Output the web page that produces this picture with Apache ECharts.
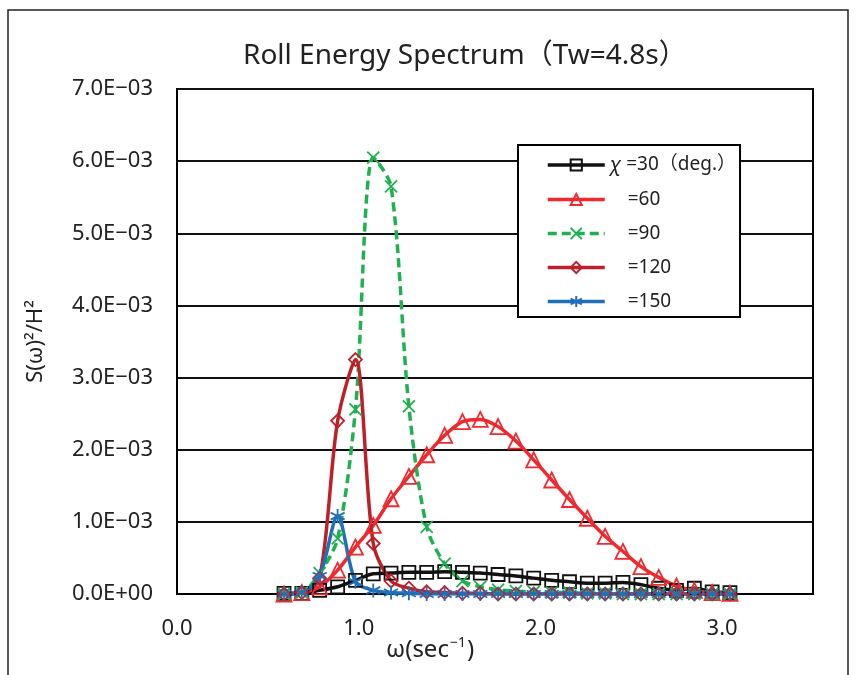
<!DOCTYPE html>
<html>
<head>
<meta charset="utf-8">
<script src="https://cdn.jsdelivr.net/npm/echarts@6/dist/echarts.min.js"></script>
<style>
  html, body { margin: 0; padding: 0; background: #fff; }
  #main { width: 856px; height: 675px; }
</style>
</head>
<body>
<div id="main"></div>
<script>
// 横揺れエネルギースペクトル  (ω = kπ/32, k=6..31)
var omega = [0.589, 0.687, 0.785, 0.884, 0.982, 1.080, 1.178, 1.276, 1.374, 1.473,
             1.571, 1.669, 1.767, 1.865, 1.963, 2.062, 2.160, 2.258, 2.356, 2.454,
             2.553, 2.651, 2.749, 2.847, 2.945, 3.043];

// 値は ×1e-3
var chi30  = [0.01, 0.01, 0.05, 0.10, 0.19, 0.28, 0.29, 0.30, 0.30, 0.31,
              0.30, 0.29, 0.27, 0.25, 0.22, 0.19, 0.17, 0.15, 0.15, 0.16,
              0.13, 0.08, 0.05, 0.08, 0.03, 0.02];
var chi60  = [0.00, 0.02, 0.10, 0.33, 0.65, 0.95, 1.32, 1.63, 1.93, 2.20,
              2.39, 2.42, 2.32, 2.12, 1.86, 1.58, 1.31, 1.05, 0.80, 0.59,
              0.38, 0.23, 0.11, 0.05, 0.02, 0.01];
var chi90  = [0.00, 0.02, 0.29, 0.77, 2.56, 6.05, 5.65, 2.60, 0.93, 0.42,
              0.18, 0.10, 0.06, 0.04, 0.03, 0.02, 0.02, 0.01, 0.01, 0.00,
              0.00, 0.00, 0.00, 0.00, 0.00, 0.00];
var chi120 = [0.00, 0.02, 0.22, 2.40, 3.25, 0.70, 0.18, 0.08, 0.03, 0.02,
              0.01, 0.01, 0.00, 0.00, 0.00, 0.00, 0.00, 0.00, 0.00, 0.00,
              0.00, 0.00, 0.00, 0.00, 0.00, 0.00];
var chi150 = [0.00, 0.02, 0.25, 1.08, 0.17, 0.05, 0.02, 0.01, 0.00, 0.00,
              0.00, 0.00, 0.00, 0.00, 0.00, 0.00, 0.00, 0.00, 0.00, 0.00,
              0.00, 0.00, 0.00, 0.00, 0.00, 0.00];

var seriesNames = ['χ =30（deg.）', '=60', '=90', '=120', '=150'];
var xTicks = [0, 1, 2, 3];

var FONT = '"Noto Sans", "Noto Sans CJK JP", sans-serif';

function pairs(vals) {
    return vals.map(function (v, i) { return [omega[i], v * 1e-3]; });
}

function fmtE(v) {
    if (v === 0) return '0.0E+00';
    var s = v.toExponential(1).split('e');
    var ex = parseInt(s[1], 10);
    var sign = ex < 0 ? '−' : '+';
    var d = Math.abs(ex);
    return s[0] + 'E' + sign + (d < 10 ? '0' + d : d);
}

var X_PATH = 'path://M0,0L10,10M10,0L0,10';
var STAR_PATH = 'path://M5,0L5,10M0.7,2.5L9.3,7.5M0.7,7.5L9.3,2.5';

function mkSeries(name, vals, color, symbol, size, extra) {
    var s = {
        name: name,
        type: 'line',
        data: pairs(vals),
        smooth: 0.3,
        symbol: symbol,
        symbolSize: size,
        lineStyle: { color: color, width: 3.5 },
        itemStyle: { color: 'none', borderColor: color, borderWidth: 1.8 },
        emphasis: { disabled: true }
    };
    if (extra) Object.assign(s.lineStyle, extra);
    return s;
}

var chart = echarts.init(document.getElementById('main'));

var option = {
    backgroundColor: '#fff',
    animation: false,
    textStyle: { fontFamily: FONT },
    title: {
        text: 'Roll Energy Spectrum（Tw=4.8s）',
        left: 238,
        top: 37,
        textStyle: { fontSize: 28, fontWeight: 'normal', color: '#222', fontFamily: FONT }
    },
    graphic: [{
        type: 'rect',
        shape: { x: 8, y: 10, width: 840, height: 700 },
        style: { fill: 'none', stroke: '#222', lineWidth: 1.5 },
        silent: true,
        z: -1
    }, {
        // x軸タイトル (プロット中心より左寄り)
        type: 'text',
        left: 386, top: 636,
        style: {
            text: '{w|ω(sec}{s|−1}{w|)}',
            fill: '#222',
            rich: {
                w: { fontSize: 24, fontFamily: 'Noto Sans', fill: '#222' },
                s: { fontSize: 14, fontFamily: 'Noto Sans', verticalAlign: 'top', padding: [0, 1, 14, 1], fill: '#222' }
            }
        },
        silent: true
    }],
    grid: {
        left: 177, right: 43, top: 89, bottom: 81,
        show: true, borderColor: '#000', borderWidth: 2,
        containLabel: false
    },
    legend: {
        orient: 'vertical',
        left: 518, top: 145,
        padding: [10, 4, 6, 28],
        itemWidth: 57, itemHeight: 14, itemGap: 15,
        backgroundColor: '#fff',
        borderColor: '#000', borderWidth: 2,
        lineStyle: { width: 3.5 },
        data: seriesNames,
        formatter: function (name) {
            if (name.charAt(0) === 'χ') return '{i|χ}' + name.slice(1);
            return '{p|}' + name;
        },
        textStyle: {
            fontSize: 19, color: '#222', fontFamily: FONT,
            rich: {
                i: { fontStyle: 'italic', fontSize: 20, fontFamily: FONT, color: '#222' },
                p: { width: 18 }
            }
        }
    },
    xAxis: {
        type: 'value',
        min: 0, max: 3.5, interval: 1,
        axisLine: { lineStyle: { color: '#000', width: 2 } },
        axisTick: { show: false },
        splitLine: { show: false },
        axisLabel: {
            fontSize: 22, color: '#222', margin: 24, showMaxLabel: false,
            formatter: function (v) { return xTicks.indexOf(v) >= 0 ? v.toFixed(1) : ''; }
        }
    },
    yAxis: {
        type: 'value',
        min: 0, max: 0.007, interval: 0.001,
        name: 'S(ω)²/H²',
        nameLocation: 'middle',
        nameRotate: 90,
        nameGap: 130,
        nameTextStyle: { fontSize: 22, color: '#222', fontFamily: FONT },
        axisLine: { show: true, lineStyle: { color: '#000', width: 2 } },
        axisTick: { show: false },
        splitLine: { lineStyle: { color: '#111', width: 2 } },
        axisLabel: { fontSize: 22, color: '#222', margin: 24, formatter: fmtE }
    },
    series: [
        mkSeries(seriesNames[0], chi30, '#111111', 'rect', 13),
        mkSeries(seriesNames[1], chi60, '#ee2a2f', 'triangle', 15),
        mkSeries(seriesNames[2], chi90, '#1fb04f', X_PATH, 12, { type: [9, 5], width: 3.5 }),
        mkSeries(seriesNames[3], chi120, '#bd2028', 'diamond', 13),
        mkSeries(seriesNames[4], chi150, '#1f6fb9', STAR_PATH, 14)
    ]
};

chart.setOption(option);
</script>
</body>
</html>
